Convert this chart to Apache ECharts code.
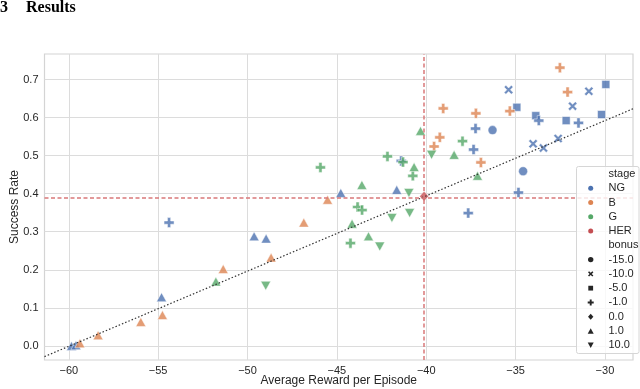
<!DOCTYPE html>
<html>
<head>
<meta charset="utf-8">
<script src="https://cdn.jsdelivr.net/npm/echarts@6/dist/echarts.min.js"></script>
<style>
  html, body { margin: 0; padding: 0; background: #fff; }
  #chart { width: 640px; height: 389px; }
</style>
</head>
<body>
<div id="chart"></div>
<script>
// 数据：每个点 [平均奖励, 成功率]
const ngCircle = [[-36.29, 0.567], [-34.58, 0.459]];
const ngCross = [[-35.39, 0.673], [-30.9, 0.669], [-31.81, 0.630], [-34.02, 0.531], [-33.44, 0.520], [-32.62, 0.545]];
const ngSquare = [[-29.95, 0.687], [-34.93, 0.627], [-33.87, 0.605], [-32.17, 0.592], [-30.19, 0.608]];
const ngPlus = [[-54.39, 0.324], [-41.4, 0.486], [-37.65, 0.349], [-37.24, 0.571], [-37.35, 0.516], [-33.7, 0.592], [-31.48, 0.586], [-34.84, 0.403]];
const ngUp = [[-59.85, 0.0], [-59.6, 0.002], [-54.81, 0.128], [-49.63, 0.288], [-48.96, 0.282], [-44.78, 0.402], [-41.65, 0.410]];

const bPlus = [[-39.56, 0.524], [-39.24, 0.548], [-39.05, 0.624], [-37.22, 0.611], [-36.94, 0.482], [-35.32, 0.617], [-32.52, 0.731], [-32.09, 0.667]];
const bUp = [[-59.38, 0.007], [-58.36, 0.028], [-55.97, 0.063], [-54.76, 0.081], [-51.36, 0.202], [-48.68, 0.232], [-46.85, 0.324], [-45.52, 0.384]];

const gPlus = [[-45.92, 0.469], [-43.84, 0.365], [-43.59, 0.357], [-44.24, 0.270], [-42.17, 0.498], [-41.3, 0.483], [-40.75, 0.447], [-37.97, 0.538]];
const gUp = [[-51.77, 0.169], [-43.6, 0.423], [-44.15, 0.321], [-43.23, 0.288], [-40.68, 0.470], [-40.32, 0.565], [-38.44, 0.502], [-37.13, 0.447]];
const gDown = [[-48.98, 0.158], [-42.6, 0.261], [-41.92, 0.336], [-40.93, 0.349], [-40.97, 0.402], [-39.7, 0.502]];

const herPoint = [[-40.12, 0.393]];
const fitLine = [[-61.36, -0.028], [-28.43, 0.623]];   // 黑色点线
const herX = -40.12, herY = 0.393;                     // 红色虚线

const stageNames = ['NG', 'B', 'G', 'HER'];
const bonusNames = ['-15.0', '-10.0', '-5.0', '-1.0', '0.0', '1.0', '10.0'];
const xTicks = [-60, -55, -50, -45, -40, -35, -30];
const yTicks = [0.0, 0.1, 0.2, 0.3, 0.4, 0.5, 0.6, 0.7];

const colors = { NG: '#4c72b0', B: '#dd8452', G: '#55a868', HER: '#c44e52' };

// X 和 + 的外形 (10x10 方框里的多边形)
const crossPts = [[2, 0], [5, 3], [8, 0], [10, 2], [7, 5], [10, 8], [8, 10], [5, 7], [2, 10], [0, 8], [3, 5], [0, 2]];
const plusPts = [[3.4, 0], [6.6, 0], [6.6, 3.4], [10, 3.4], [10, 6.6], [6.6, 6.6], [6.6, 10], [3.4, 10], [3.4, 6.6], [0, 6.6], [0, 3.4], [3.4, 3.4]];
const toPath = pts => 'path://M' + pts.map(p => p[0] + ',' + p[1]).join(' L') + ' Z';

const shapes = {
  '-15.0': { symbol: 'circle', size: 9 },
  '-10.0': { symbol: toPath(crossPts), pts: crossPts, size: 9 },
  '-5.0': { symbol: 'rect', size: 8 },
  '-1.0': { symbol: toPath(plusPts), pts: plusPts, size: 10 },
  '0.0': { symbol: 'diamond', size: [9, 10] },
  '1.0': { symbol: 'triangle', size: [10, 9] },
  '10.0': { symbol: 'triangle', size: [10, 9], rotate: 180 }
};

const groups = [
  ['NG', '-15.0', ngCircle], ['NG', '-10.0', ngCross], ['NG', '-5.0', ngSquare],
  ['NG', '-1.0', ngPlus], ['NG', '1.0', ngUp],
  ['B', '-1.0', bPlus], ['B', '1.0', bUp],
  ['G', '-1.0', gPlus], ['G', '1.0', gUp], ['G', '10.0', gDown],
  ['HER', '0.0', herPoint]
];

const series = groups.map(([stage, bonus, pts]) => ({
  type: 'scatter',
  name: stage + ' ' + bonus,
  data: pts,
  symbol: shapes[bonus].symbol,
  symbolSize: shapes[bonus].size,
  symbolRotate: shapes[bonus].rotate || 0,
  itemStyle: { color: colors[stage], borderColor: '#fff', borderWidth: 0.6 },
  z: 3
}));

series.push({
  type: 'line',
  data: fitLine,
  symbol: 'none',
  silent: true,
  lineStyle: { color: '#333', width: 1.2, type: [1.5, 2] },
  z: 4,
  markLine: {
    silent: true,
    symbol: 'none',
    label: { show: false },
    lineStyle: { color: '#d9787a', width: 1.5, type: [4, 2.5] },
    data: [{ xAxis: herX }, { yAxis: herY }]
  }
});

// 图例
const legendRows = [];
legendRows.push({ text: 'stage' });
stageNames.forEach(s => legendRows.push({ text: s, color: colors[s], symbol: 'circle', size: [5, 5] }));
legendRows.push({ text: 'bonus' });
bonusNames.forEach(b => {
  const sh = shapes[b];
  const sz = Array.isArray(sh.size) ? sh.size.map(v => v * 0.6) : [sh.size * 0.6, sh.size * 0.6];
  legendRows.push({ text: b, color: '#262626', symbol: sh.symbol, pts: sh.pts, size: sz, rotate: sh.rotate || 0 });
});

function makeSymbol(row, cx, cy) {
  const w = row.size[0], h = row.size[1], color = row.color;
  const base = { style: { fill: color }, z: 11 };
  if (row.symbol === 'circle') return Object.assign({ type: 'circle', shape: { cx: cx, cy: cy, r: w / 2 } }, base);
  if (row.symbol === 'rect') return Object.assign({ type: 'rect', shape: { x: cx - w / 2, y: cy - h / 2, width: w, height: h } }, base);
  if (row.symbol === 'diamond') return Object.assign({ type: 'polygon', shape: { points: [[cx, cy - h / 2], [cx + w / 2, cy], [cx, cy + h / 2], [cx - w / 2, cy]] } }, base);
  if (row.symbol === 'triangle') {
    const s = row.rotate ? -1 : 1;
    return Object.assign({ type: 'polygon', shape: { points: [[cx, cy - s * h / 2], [cx + w / 2, cy + s * h / 2], [cx - w / 2, cy + s * h / 2]] } }, base);
  }
  return Object.assign({ type: 'polygon', shape: { points: row.pts.map(p => [cx - w / 2 + p[0] * w / 10, cy - h / 2 + p[1] * h / 10]) } }, base);
}

const legendGraphics = [{
  type: 'rect',
  shape: { x: 576.5, y: 166.5, width: 62.5, height: 187, r: 2 },
  style: { fill: 'rgba(255,255,255,0.8)', stroke: '#d6d6d6', lineWidth: 1 },
  z: 10
}];
legendRows.forEach((row, i) => {
  const cy = 174 + i * 14.27;
  legendGraphics.push({
    type: 'text',
    x: 608.5, y: cy,
    style: { text: row.text, fill: '#262626', font: '11px "Liberation Sans", Arial, sans-serif', verticalAlign: 'middle' },
    z: 11
  });
  if (row.symbol) legendGraphics.push(makeSymbol(row, 590.7, cy));
});

const chart = echarts.init(document.getElementById('chart'));

const option = {
  animation: false,
  backgroundColor: '#fff',
  grid: {
    left: 44.5, right: 7, top: 54, bottom: 29,
    containLabel: false, outerBoundsMode: 'none',
    show: true, borderColor: '#d4d4d4', borderWidth: 1.2
  },
  xAxis: {
    type: 'value',
    min: -61.36, max: -28.43,
    name: 'Average Reward per Episode',
    nameLocation: 'middle', nameGap: 15, nameMoveOverlap: false,
    nameTextStyle: { color: '#262626', fontSize: 12, fontFamily: 'Liberation Sans' },
    axisLine: { show: false },
    axisTick: { show: false, customValues: xTicks },
    axisLabel: {
      customValues: xTicks,
      color: '#262626', fontSize: 11, fontFamily: 'Liberation Sans', margin: 5,
      formatter: v => '\u2212' + Math.abs(v)
    },
    splitLine: { show: true, lineStyle: { color: '#dcdcdc', width: 1 } }
  },
  yAxis: {
    type: 'value',
    min: -0.037, max: 0.767,
    name: 'Success Rate',
    nameLocation: 'middle', nameGap: 24, nameMoveOverlap: false,
    nameTextStyle: { color: '#262626', fontSize: 12, fontFamily: 'Liberation Sans' },
    axisLine: { show: false },
    axisTick: { show: false, customValues: yTicks },
    axisLabel: {
      customValues: yTicks,
      color: '#262626', fontSize: 11, fontFamily: 'Liberation Sans', margin: 6,
      formatter: v => v.toFixed(1)
    },
    splitLine: { show: true, lineStyle: { color: '#dcdcdc', width: 1 } }
  },
  graphic: [
    { type: 'text', x: 0, y: 0, style: { text: '3', fill: '#000', font: 'bold 16px "Liberation Serif", serif', verticalAlign: 'top' } },
    { type: 'text', x: 26, y: 0, style: { text: 'Results', fill: '#000', font: 'bold 16px "Liberation Serif", serif', verticalAlign: 'top' } }
  ].concat(legendGraphics),
  series: series
};
chart.setOption(option);
</script>
</body>
</html>
